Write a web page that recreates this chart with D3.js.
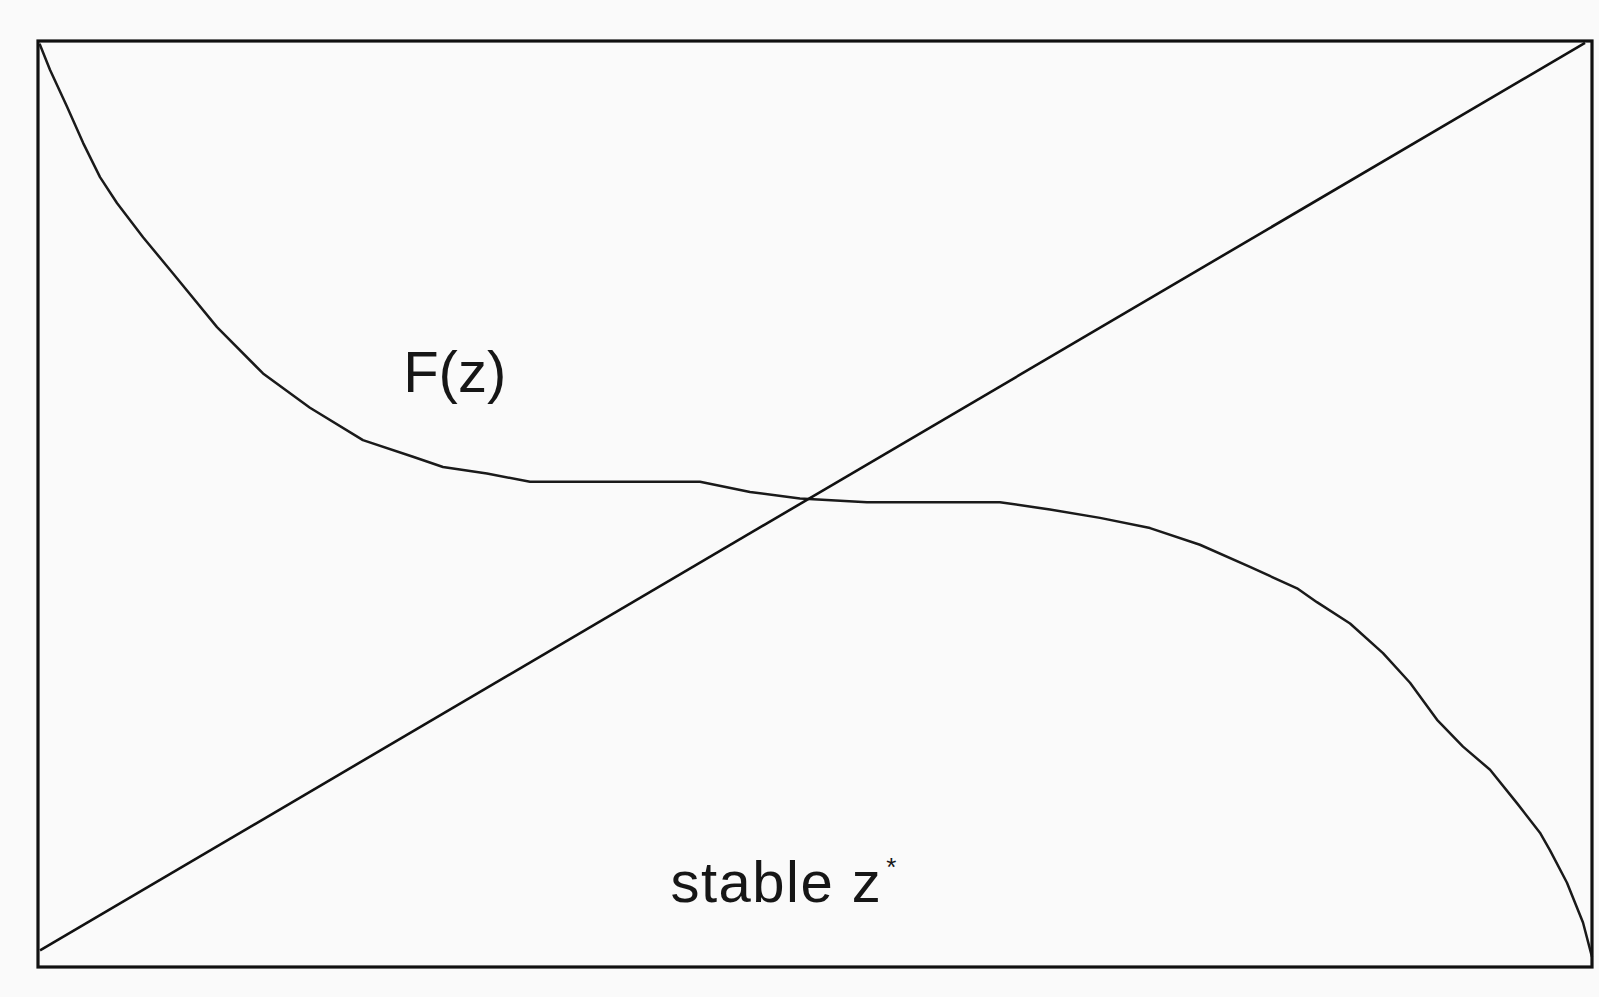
<!DOCTYPE html>
<html>
<head>
<meta charset="utf-8">
<script src="https://cdn.jsdelivr.net/npm/d3@7"></script>
<style>
  html, body { margin: 0; padding: 0; background: #fafafa; }
  text { font-family: "Liberation Sans", Arial, sans-serif; fill: #161616; }
</style>
</head>
<body>
<div id="container"></div>
<script>
/* CONSTANTS AND GLOBALS */
const width = 1599;
const height = 997;
const frame = { left: 38, right: 1592, top: 41, bottom: 967 };

/* DATA (0-100 in both directions) */
const curveX = [0.1, 0.77, 1.87, 2.9, 3.99, 5.08, 6.76, 8.69, 11.52, 14.48, 17.5, 20.91,
  24.13, 26.06, 28.89, 31.66, 42.6, 45.82, 49.03, 53.35, 61.9, 65.12, 68.34, 71.56,
  74.77, 77.99, 81.02, 82.3, 84.43, 86.55, 88.29, 90.03, 91.7, 93.44, 95.17, 96.65,
  97.3, 98.39, 99.42, 100];
const curveY = [99.7, 96.9, 92.9, 89.0, 85.3, 82.5, 78.8, 74.9, 69.1, 64.1, 60.4, 56.9,
  55.1, 54.0, 53.3, 52.4, 52.4, 51.3, 50.6, 50.2, 50.2, 49.4, 48.5, 47.4,
  45.6, 43.2, 40.9, 39.4, 37.1, 33.9, 30.7, 26.7, 23.8, 21.3, 17.7, 14.5,
  12.6, 9.1, 4.8, 1.1];
const lineX = [0.13, 99.55];
const lineY = [1.8, 99.8];
const labels = ["F(z)", "stable z"];

const svg = d3.select("#container").append("svg")
  .attr("width", width)
  .attr("height", height);

/* SCALES */
const xScale = d3.scaleLinear().domain([0, 100]).range([frame.left, frame.right]);
const yScale = d3.scaleLinear().domain([0, 100]).range([frame.bottom, frame.top]);

const line = d3.line()
  .x(d => xScale(d[0]))
  .y(d => yScale(d[1]));

/* MARKS */
svg.append("path")
  .datum(d3.zip(curveX, curveY))
  .attr("d", line)
  .attr("fill", "none")
  .attr("stroke", "#1a1a1a")
  .attr("stroke-width", 2.5)
  .attr("stroke-linejoin", "round");

svg.append("path")
  .datum(d3.zip(lineX, lineY))
  .attr("d", line)
  .attr("fill", "none")
  .attr("stroke", "#111")
  .attr("stroke-width", 2.6);

// frame
svg.append("rect")
  .attr("x", xScale(0))
  .attr("y", yScale(100))
  .attr("width", xScale(100) - xScale(0))
  .attr("height", yScale(0) - yScale(100))
  .attr("fill", "none")
  .attr("stroke", "#111")
  .attr("stroke-width", 3.2);

/* LABELS */
svg.append("text")
  .attr("x", xScale(23.5))
  .attr("y", yScale(62.1))
  .attr("font-size", 58)
  .text(labels[0]);

const t = svg.append("text")
  .attr("x", xScale(40.7))
  .attr("y", yScale(7.0))
  .attr("font-size", 58)
  .attr("letter-spacing", 1.5)
  .text(labels[1]);
t.append("tspan")
  .attr("dx", 4)
  .attr("dy", -26)
  .attr("font-size", 26)
  .text("*");
</script>
</body>
</html>
